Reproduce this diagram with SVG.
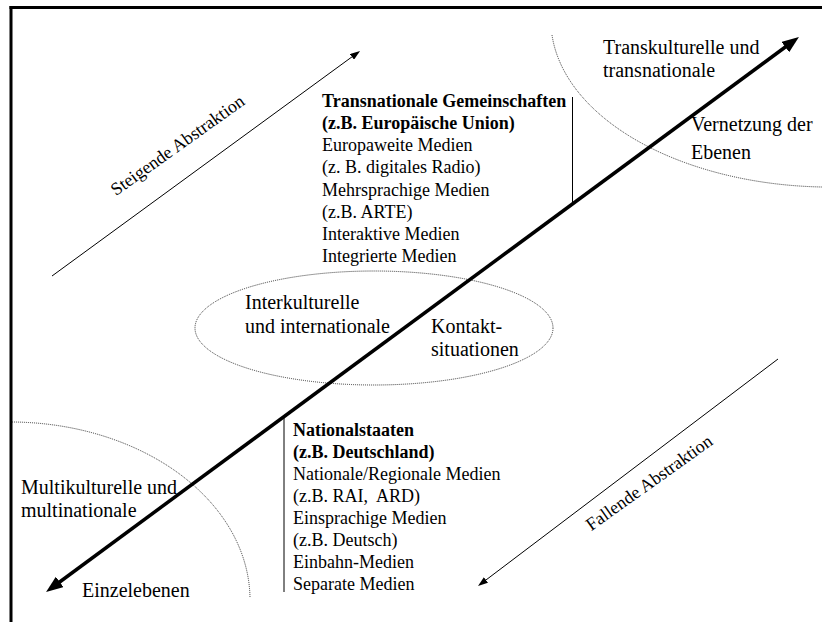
<svg xmlns="http://www.w3.org/2000/svg" width="822" height="622" viewBox="0 0 822 622">
<style>
text{font-family:"Liberation Serif","Times New Roman",serif;fill:#000}
.lbl{font-size:20px}
.blk{font-size:18px}
.b{font-weight:bold}
.rot{font-size:18px}
.dot{fill:none;stroke:#222;stroke-width:0.9;stroke-dasharray:1 1}
.frame{stroke:#000;stroke-width:3;fill:none}
.thick{stroke:#000;stroke-width:3.5;fill:none}
.thin{stroke:#000;stroke-width:1;fill:none}
</style>
<defs>
<marker id="bigHead" viewBox="0 0 17 13" markerWidth="17" markerHeight="13" refX="6" refY="6.5" markerUnits="userSpaceOnUse" orient="auto-start-reverse">
<path d="M0,0 L17,6.5 L0,13 z" fill="#000"/>
</marker>
<marker id="smallHead" viewBox="0 0 10 7" markerWidth="10" markerHeight="7" refX="4" refY="3.5" markerUnits="userSpaceOnUse" orient="auto">
<path d="M0,0 L10,3.5 L0,7 z" fill="#000"/>
</marker>
</defs>
<rect width="822" height="622" fill="#fff"/>
<g id="frame">
<line class="frame" x1="9.5" y1="7.5" x2="822" y2="7.5"/>
<line class="frame" x1="11" y1="6" x2="11" y2="622"/>
</g>
<g id="region-trans">
<path class="dot" d="M552,35 A280,167 0 0 0 822,187"/>
</g>
<g id="region-inter">
<ellipse class="dot" cx="374" cy="328" rx="179" ry="57"/>
</g>
<g id="region-multi">
<path class="dot" d="M12,422 A240,178 0 0 1 250,598"/>
</g>
<g id="connectors">
<path class="thick" d="M54.9,585.5 L790.1,43.5" marker-start="url(#bigHead)" marker-end="url(#bigHead)"/>
<path class="thin" d="M52,276 L355.2,54.5" marker-end="url(#smallHead)"/>
<path class="thin" d="M778,359 L482.8,582.4" marker-end="url(#smallHead)"/>
<line class="thin" x1="572.5" y1="97" x2="572.5" y2="204"/>
<line class="thin" x1="284" y1="417" x2="284" y2="592"/>
</g>
<g id="label-steigend">
<text class="rot" text-anchor="middle" transform="translate(181,150) rotate(-35.5)">Steigende Abstraktion</text>
</g>
<g id="label-fallend">
<text class="rot" text-anchor="middle" transform="translate(652.5,487.5) rotate(-35.5)">Fallende Abstraktion</text>
</g>
<g id="block-transnational">
<text class="blk b" x="322" y="107">Transnationale Gemeinschaften</text>
<text class="blk b" x="322" y="129">(z.B. Europäische Union)</text>
<text class="blk" x="322" y="151">Europaweite Medien</text>
<text class="blk" x="322" y="173">(z. B. digitales Radio)</text>
<text class="blk" x="322" y="196">Mehrsprachige Medien</text>
<text class="blk" x="322" y="218">(z.B. ARTE)</text>
<text class="blk" x="322" y="240">Interaktive Medien</text>
<text class="blk" x="322" y="262">Integrierte Medien</text>
</g>
<g id="block-national">
<text class="blk b" x="293" y="436">Nationalstaaten</text>
<text class="blk b" x="293" y="458">(z.B. Deutschland)</text>
<text class="blk" x="293" y="480">Nationale/Regionale Medien</text>
<text class="blk" x="293" y="502" xml:space="preserve">(z.B. RAI,  ARD)</text>
<text class="blk" x="293" y="524">Einsprachige Medien</text>
<text class="blk" x="293" y="546">(z.B. Deutsch)</text>
<text class="blk" x="293" y="568">Einbahn-Medien</text>
<text class="blk" x="293" y="590">Separate Medien</text>
</g>
<g id="label-transkulturell">
<text class="lbl" x="603" y="54">Transkulturelle und</text>
<text class="lbl" x="603" y="77">transnationale</text>
</g>
<g id="label-vernetzung">
<text class="lbl" x="691" y="131">Vernetzung der</text>
<text class="lbl" x="691" y="159">Ebenen</text>
</g>
<g id="label-interkulturell">
<text class="lbl" x="245" y="309">Interkulturelle</text>
<text class="lbl" x="245" y="333">und internationale</text>
</g>
<g id="label-kontakt">
<text class="lbl" x="431" y="333">Kontakt-</text>
<text class="lbl" x="431" y="356">situationen</text>
</g>
<g id="label-multikulturell">
<text class="lbl" x="21" y="494">Multikulturelle und</text>
<text class="lbl" x="21" y="517">multinationale</text>
</g>
<g id="label-einzel">
<text class="lbl" x="82" y="597">Einzelebenen</text>
</g>
</svg>
